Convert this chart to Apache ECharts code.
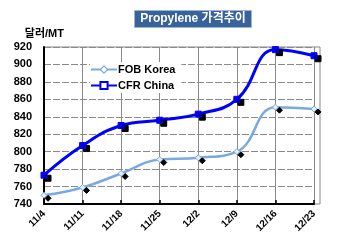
<!DOCTYPE html>
<html><head><meta charset="utf-8">
<script src="https://cdn.jsdelivr.net/npm/echarts@6/dist/echarts.min.js"></script>
<style>html,body{margin:0;padding:0;background:#fff}#c{width:350px;height:250px}</style>
</head><body><div id="c"></div>
<script>
const categories = ['11/4','11/11','11/18','11/25','12/2','12/9','12/16','12/23'];
const fobKorea = [750, 759, 775, 791, 793, 800, 851, 849];
const cfrChina = [773, 807, 830, 836, 843, 860, 917, 910];
const yTicks = [740, 760, 780, 800, 820, 840, 860, 880, 900, 920];

const chart = echarts.init(document.getElementById('c'));
const font = 'Arial, "Liberation Sans", "Noto Sans CJK KR", sans-serif';
const shadow = {shadowColor:'#000', shadowBlur:0, shadowOffsetX:4, shadowOffsetY:3};
chart.setOption({
  animation:false,
  backgroundColor:'#fff',
  textStyle:{fontFamily:font},
  title:{
    text:'Propylene 가격추이', left:187, textAlign:'center', top:10,
    backgroundColor:'#37629a', borderColor:'#9fb4d0', borderWidth:1,
    padding:[3,6,3,6],
    textStyle:{color:'#fff', fontSize:12, fontWeight:'bold', fontFamily:font}
  },
  legend:{
    left:90, top:62, orient:'vertical', itemGap:5, itemWidth:26, itemHeight:9,
    backgroundColor:'#fff', padding:[2,6,2,0],
    textStyle:{fontSize:11, fontWeight:'bold', color:'#000', fontFamily:font, padding:[0,0,0,-4]},
    itemStyle:{shadowColor:'rgba(0,0,0,0)', shadowOffsetX:0, shadowOffsetY:0},
    data:[
      {name:'FOB Korea', itemStyle:{color:'#fff', borderColor:'#7aa9e2', borderWidth:1.2}},
      {name:'CFR China', itemStyle:{color:'#fff', borderColor:'#0000ff', borderWidth:2}}
    ]
  },
  grid:[
    {left:44, right:36, top:47, bottom:46, containLabel:false},
    {left:44, right:30, top:47, bottom:46, show:true, borderColor:'#888', borderWidth:1, backgroundColor:'transparent', z:0}
  ],
  xAxis:[{
    type:'category', data:categories, boundaryGap:false, gridIndex:0,
    axisLine:{show:true, lineStyle:{color:'#000', width:2}},
    axisTick:{show:true, inside:true, length:4, lineStyle:{color:'#000', width:1.5}},
    splitLine:{show:true, lineStyle:{color:'#8a8a8a', width:1}},
    axisLabel:{rotate:45, fontSize:10, fontWeight:'bold', color:'#000', margin:8, interval:0, fontFamily:font}
  },{
    type:'category', gridIndex:1, data:categories, show:false
  }],
  yAxis:[{
    type:'value', min:740, max:920, interval:20, gridIndex:0,
    name:'달러/MT', nameLocation:'end', nameGap:8,
    nameTextStyle:{fontSize:11, fontWeight:'bold', color:'#000', align:'right', padding:[0,-20,0,0], fontFamily:font},
    axisLine:{show:true, lineStyle:{color:'#000', width:2}},
    axisTick:{show:false},
    splitLine:{show:true, lineStyle:{color:'#8a8a8a', width:1, type:[7,2]}},
    axisLabel:{fontSize:11, fontWeight:'bold', color:'#000', margin:12, fontFamily:font,
      formatter:v=>yTicks.includes(v)?String(v):''}
  },{
    type:'value', gridIndex:1, show:false, min:0, max:1
  }],
  series:[
    {
      name:'FOB Korea', type:'line', data:fobKorea, smooth:0.45,
      xAxisIndex:0, yAxisIndex:0,
      symbol:'diamond', symbolSize:6, showAllSymbol:true,
      lineStyle:{color:'#7aa9e2', width:2.5},
      itemStyle:Object.assign({color:'#e8f0fa', borderColor:'#7aa9e2', borderWidth:1}, shadow),
      z:3
    },
    {
      name:'CFR China', type:'line', data:cfrChina, smooth:0.45,
      xAxisIndex:0, yAxisIndex:0,
      symbol:'rect', symbolSize:6, showAllSymbol:true,
      lineStyle:{color:'#0000ff', width:3},
      itemStyle:Object.assign({color:'#0000ff', borderColor:'#0000ff', borderWidth:1}, shadow),
      z:4
    }
  ]
});
</script></body></html>
